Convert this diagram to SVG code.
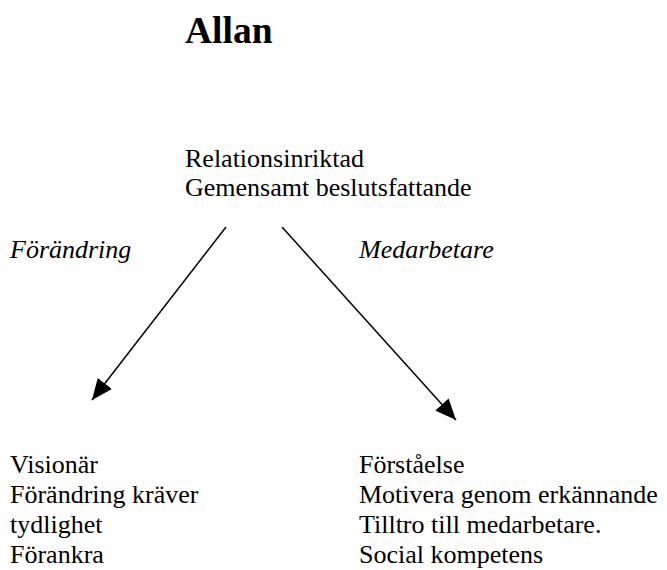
<svg xmlns="http://www.w3.org/2000/svg" width="667" height="570" viewBox="0 0 667 570">
<defs>
<style>
.t{font-family:"Liberation Serif","Times New Roman",serif;font-size:26px;fill:#000}
.i{font-style:italic}
.h{font-family:"Liberation Serif","Times New Roman",serif;font-size:37.5px;font-weight:bold;fill:#000}
.c{stroke:#000;stroke-width:1.5;fill:none}
</style>
<marker id="ah" markerUnits="userSpaceOnUse" markerWidth="24" markerHeight="20" viewBox="0 0 24 20" refX="21" refY="9" orient="auto">
<path d="M0,0 L21,9 L0,18 z" fill="#000"/>
</marker>
</defs>
<rect width="667" height="570" fill="#fff"/>
<g id="title"><text class="h" x="185" y="43">Allan</text></g>
<g id="top">
<text class="t" x="185" y="167">Relationsinriktad</text>
<text class="t" x="185" y="196">Gemensamt beslutsfattande</text>
</g>
<g id="left">
<text class="t" x="10" y="473">Visionär</text>
<text class="t" x="10" y="503">Förändring kräver</text>
<text class="t" x="10" y="533">tydlighet</text>
<text class="t" x="10" y="563">Förankra</text>
</g>
<g id="right">
<text class="t" x="359" y="473">Förståelse</text>
<text class="t" x="359" y="503">Motivera genom erkännande</text>
<text class="t" x="359" y="533">Tilltro till medarbetare.</text>
<text class="t" x="359" y="563">Social kompetens</text>
</g>
<g id="connectors">
<line class="c" x1="226" y1="227" x2="92" y2="400" marker-end="url(#ah)"/>
<line class="c" x1="282" y1="227" x2="456" y2="420" marker-end="url(#ah)"/>
<text class="t i" x="10" y="258">Förändring</text>
<text class="t i" x="359" y="258">Medarbetare</text>
</g>
</svg>
